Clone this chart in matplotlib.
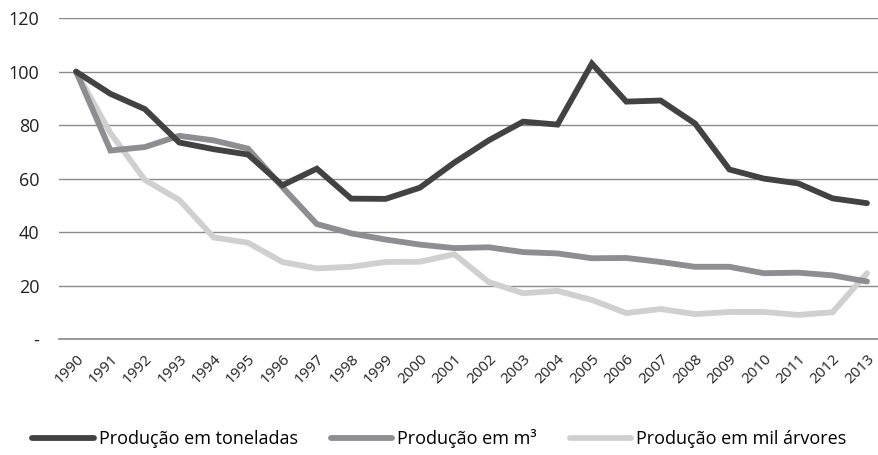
import matplotlib
matplotlib.use("Agg")
import matplotlib.pyplot as plt

anos = [str(a) for a in range(1990, 2014)]

toneladas = [100, 91.7, 86, 73.5, 71, 69, 57.5, 63.7, 52.5, 52.4, 56.6, 66,
             74.3, 81.3, 80.2, 103, 88.8, 89.2, 80.6, 63.4, 60, 58.2, 52.6, 50.8]
metros_cubicos = [100, 70.5, 71.8, 76, 74.3, 71.2, 56.8, 43, 39.5, 37.2, 35.3, 34,
                  34.3, 32.5, 32, 30.2, 30.3, 28.8, 27, 27, 24.6, 24.8, 23.8, 21.5]
mil_arvores = [100, 77, 59.5, 52, 38, 36, 28.8, 26.4, 27, 28.8, 28.9, 31.7,
               21.3, 17.1, 18, 14.6, 9.7, 11.2, 9.3, 10.1, 10.1, 9, 10, 24.6]

y_ticks = [0, 20, 40, 60, 80, 100, 120]
y_labels = ["-", "20", "40", "60", "80", "100", "120"]

plt.rcParams['font.family'] = ['Open Sans', 'DejaVu Sans']

fig = plt.figure(figsize=(8.79, 4.55), dpi=100)
ax = fig.add_axes([0.067, 0.255, 0.933, 0.705])

x = list(range(len(anos)))
ax.plot(x, toneladas, color="#424242", lw=4.2, solid_capstyle="round",
        solid_joinstyle="miter", label="Produção em toneladas", zorder=3)
ax.plot(x, metros_cubicos, color="#8e8e90", lw=4.2, solid_capstyle="round",
        solid_joinstyle="miter", label="Produção em m³", zorder=2)
ax.plot(x, mil_arvores, color="#d0d0d0", lw=4.2, solid_capstyle="round",
        solid_joinstyle="miter", label="Produção em mil árvores", zorder=1)

ax.set_ylim(0, 120)
ax.set_xlim(-0.5, 23.35)
ax.set_yticks(y_ticks)
ax.set_yticklabels(y_labels, fontsize=13, color="#222222")
ax.set_xticks(x)
ax.set_xticklabels(anos, rotation=45, ha="right", rotation_mode="anchor",
                   fontsize=11, color="#222222")
ax.tick_params(axis="x", length=0, pad=9)
ax.tick_params(axis="y", length=0, pad=14)

ax.grid(axis="y", color="#8a8a8a", lw=1)
ax.set_axisbelow(True)
for s in ["top", "right", "left"]:
    ax.spines[s].set_visible(False)
ax.spines["bottom"].set_color("#8a8a8a")
ax.spines["bottom"].set_linewidth(1.2)

fig.legend(loc="lower center", bbox_to_anchor=(0.5, -0.02), ncol=3, frameon=False,
           fontsize=13, handlelength=3.4, columnspacing=1.8, handletextpad=0.3)

fig.savefig("out.png", dpi=100)
